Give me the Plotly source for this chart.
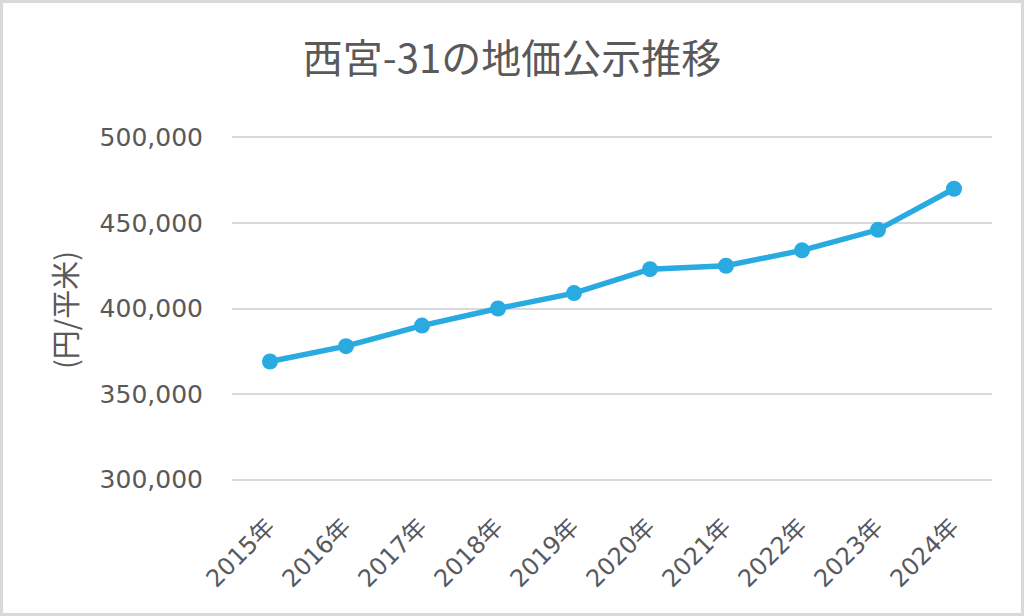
import plotly.graph_objects as go

years = ["2015年", "2016年", "2017年", "2018年", "2019年", "2020年", "2021年", "2022年", "2023年", "2024年"]
prices = [369000, 378000, 390000, 400000, 409000, 423000, 425000, 434000, 446000, 470000]
y_ticks = [300000, 350000, 400000, 450000, 500000]
y_tick_labels = ["300,000", "350,000", "400,000", "450,000", "500,000"]

W, H = 1024, 616
ML, MR, MT, MB = 232, 32, 134, 133

fig = go.Figure(go.Scatter(
    x=years, y=prices, mode="lines+markers",
    line=dict(color="#29abe2", width=5.5),
    marker=dict(color="#29abe2", size=16),
    cliponaxis=False,
))

pw = W - ML - MR
ph = H - MT - MB
fig.add_shape(type="rect", xref="paper", yref="paper",
              x0=-(ML - 1.5) / pw, x1=1 + (MR - 1.5) / pw,
              y0=-(MB - 1.5) / ph, y1=1 + (MT - 1.5) / ph,
              line=dict(color="#d9d9d9", width=3), layer="below")

fig.update_layout(
    width=W, height=H,
    margin=dict(l=ML, r=MR, t=MT, b=MB),
    paper_bgcolor="white", plot_bgcolor="white",
    showlegend=False,
    title=dict(text="西宮-31の地価公示推移", x=0.5, xref="container", xanchor="center",
               y=1 - 59 / H, yanchor="middle",
               font=dict(family="Noto Sans CJK JP", size=40, color="#595959")),
    xaxis=dict(type="category", range=[-0.5, len(years) - 0.5], tickangle=-45,
               showgrid=False, showline=False,
               ticks="", ticklabelstandoff=24, ticklabelshift=-2,
               tickfont=dict(family="DejaVu Sans, Noto Sans CJK JP", size=24, color="#595959")),
    yaxis=dict(range=[298000, 502000], tickvals=y_ticks, ticktext=y_tick_labels,
               showgrid=True, gridcolor="#d9d9d9", gridwidth=2, zeroline=False,
               showline=False, ticks="", ticklabelstandoff=28,
               tickfont=dict(family="DejaVu Sans", size=25, color="#595959")),
)
fig.add_annotation(text="(円/平米)", xref="paper", yref="paper",
                   x=-(ML - 64) / pw, y=(H - MB - 310) / ph, showarrow=False,
                   textangle=-90, xanchor="center", yanchor="middle",
                   font=dict(family="Noto Sans CJK JP", size=29, color="#595959"))

fig.write_html("out.html")
